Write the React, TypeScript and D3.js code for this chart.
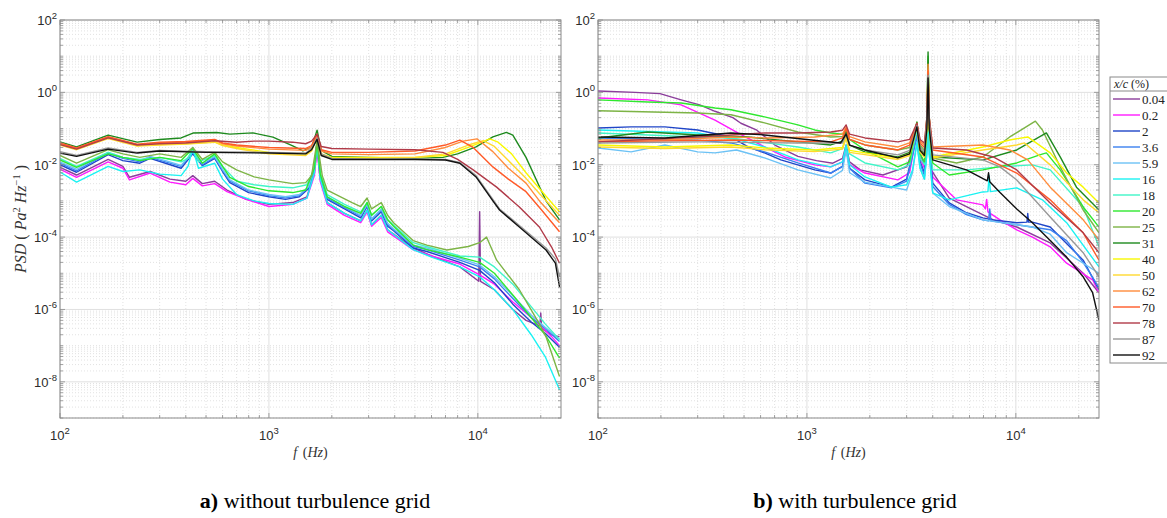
import React from 'react';
import * as d3 from 'd3';

type P = [number, number];

const xcLabels = ['0.04', '0.2', '2', '3.6', '5.9', '16', '18', '20', '25', '31', '40', '50', '62', '70', '78', '87', '92'];
const seriesColors = ['#8B3D9B', '#FF1AFF', '#1F45C8', '#3A80F0', '#6CC2F5', '#1AF2F2', '#40F5C8', '#2EE82E', '#7DB446', '#1E8A1E', '#F8F800', '#FFD92E', '#FF8C3C', '#FF5A28', '#B03A48', '#999999', '#111111'];

const xTickExps = [2, 3, 4];
const yTickExps = [-8, -6, -4, -2, 0, 2];
const captionTags = ['a)', 'b)'];
const captionTexts = [' without turbulence grid', ' with turbulence grid'];

// ---------- panel a) without turbulence grid ----------
const a_004: P[] = [[100,0.0085],[120,0.0052],[170,0.014],[200,0.009],[215,0.0045],[270,0.0065],[336,0.004],[400,0.0035],[432,0.005],[480,0.003],[550,0.0035],[630,0.002],[780,0.0011],[1000,0.0008],[1300,0.0009],[1520,0.0013],[1650,0.006],[1700,0.03],[1760,0.004],[1900,0.0009],[2300,0.00045],[2750,0.00028],[2950,0.00055],[3100,0.00022],[3450,0.0004],[3700,0.00016],[4900,5e-5],[6000,3e-5],[8200,1.5e-5],[10100,6e-6],[10200,5e-4],[10300,6e-6],[12000,3.5e-6],[14700,1e-6],[17000,5e-7],[19800,3.5e-7],[20000,8e-7],[20200,3e-7],[22500,2e-7],[24600,1.75e-7]];
const a_02: P[] = [[100,0.0075],[120,0.0045],[170,0.012],[200,0.008],[215,0.0038],[270,0.0059],[336,0.0033],[400,0.0028],[432,0.0042],[480,0.0026],[550,0.003],[630,0.0018],[780,0.0011],[1000,0.0007],[1300,0.0008],[1520,0.0012],[1650,0.005],[1700,0.028],[1760,0.0035],[1900,0.0008],[2300,0.0004],[2750,0.00025],[2950,0.0005],[3100,0.0002],[3450,0.00035],[3700,0.00014],[4900,4.5e-5],[6000,3e-5],[8200,1.8e-5],[10200,9e-6],[12000,5e-6],[14700,1.6e-6],[17000,8e-7],[20000,3.5e-7],[22500,1.8e-7],[24600,1e-7]];
const a_2: P[] = [[100,0.010],[120,0.0062],[170,0.019],[200,0.013],[241,0.011],[270,0.015],[320,0.011],[380,0.008],[432,0.02],[480,0.0095],[550,0.015],[600,0.0065],[650,0.0032],[800,0.0017],[1000,0.0013],[1200,0.0011],[1400,0.0013],[1550,0.0022],[1650,0.008],[1700,0.04],[1760,0.005],[1900,0.0011],[2300,0.0006],[2750,0.00034],[2950,0.0007],[3100,0.00028],[3450,0.0005],[3700,0.0002],[3950,0.00015],[4900,5e-5],[5700,4e-5],[8200,2e-5],[10200,1.2e-5],[12000,5.5e-6],[14700,1.4e-6],[18000,4.5e-7],[21000,2.2e-7],[24600,9e-8]];
const a_36: P[] = [[100,0.011],[120,0.0068],[170,0.021],[200,0.015],[241,0.012],[270,0.016],[320,0.012],[380,0.009],[432,0.022],[480,0.010],[550,0.016],[600,0.007],[650,0.0035],[800,0.0019],[1000,0.0014],[1200,0.0012],[1400,0.0014],[1550,0.0024],[1650,0.009],[1700,0.042],[1760,0.0055],[1900,0.0012],[2300,0.00065],[2750,0.00038],[2950,0.00075],[3100,0.0003],[3450,0.00055],[3700,0.00022],[3950,0.00016],[4900,5.5e-5],[5700,4.5e-5],[8200,2.3e-5],[10200,1.5e-5],[12000,7e-6],[14700,2e-6],[18000,6e-7],[21000,3e-7],[24600,1.3e-7]];
const a_59: P[] = [[100,0.012],[120,0.0075],[170,0.022],[200,0.016],[241,0.013],[270,0.017],[320,0.013],[380,0.0095],[432,0.023],[480,0.011],[550,0.017],[600,0.0075],[650,0.0038],[800,0.002],[1000,0.0015],[1200,0.0013],[1400,0.0015],[1550,0.0025],[1650,0.009],[1700,0.042],[1760,0.0055],[1900,0.0013],[2300,0.0007],[2750,0.0004],[2950,0.0008],[3100,0.00032],[3450,0.0006],[3700,0.00024],[3950,0.00017],[4900,6e-5],[5700,5e-5],[8200,2.6e-5],[10200,1.7e-5],[12000,8e-6],[14700,2.4e-6],[18000,7e-7],[21000,3.2e-7],[24600,1.5e-7]];
const a_16: P[] = [[100,0.0063],[120,0.0033],[170,0.009],[200,0.0065],[241,0.0072],[300,0.0055],[380,0.005],[410,0.009],[432,0.028],[460,0.008],[550,0.011],[600,0.004],[700,0.0015],[850,0.001],[1000,0.00085],[1300,0.0008],[1520,0.0012],[1650,0.006],[1700,0.035],[1760,0.004],[1900,0.0009],[2300,0.00045],[2750,0.00028],[2950,0.00055],[3100,0.00022],[3450,0.0004],[3700,0.00016],[4900,4.5e-5],[6000,2.8e-5],[8200,1.5e-5],[10200,8e-6],[12000,3.5e-6],[14700,1e-6],[18000,2e-7],[21000,5e-8],[24600,6e-9]];
const a_18: P[] = [[100,0.015],[120,0.009],[170,0.022],[200,0.016],[241,0.014],[300,0.016],[380,0.012],[410,0.015],[432,0.03],[460,0.012],[550,0.018],[600,0.009],[700,0.0035],[850,0.0028],[1000,0.0025],[1300,0.0023],[1520,0.0028],[1650,0.008],[1700,0.045],[1760,0.006],[1900,0.0015],[2300,0.0008],[2750,0.0005],[2950,0.0009],[3100,0.0004],[3450,0.0007],[3700,0.0003],[4900,7e-5],[6000,5e-5],[8200,3e-5],[10200,2.8e-5],[12000,1.5e-5],[14700,5e-6],[18000,1.2e-6],[21000,4e-7],[24600,1.45e-7]];
const a_20: P[] = [[100,0.0136],[120,0.0085],[170,0.02],[200,0.016],[241,0.013],[300,0.016],[380,0.013],[432,0.028],[480,0.011],[550,0.02],[600,0.009],[650,0.0045],[800,0.0025],[1000,0.0019],[1300,0.0017],[1500,0.002],[1650,0.008],[1700,0.045],[1760,0.0055],[1900,0.0013],[2300,0.0007],[2750,0.00045],[2950,0.0009],[3100,0.0004],[3450,0.0007],[3700,0.0003],[3950,0.0002],[4900,6e-5],[5700,4.5e-5],[8200,2.8e-5],[10200,2e-5],[12000,1e-5],[14700,2.5e-6],[18000,6e-7],[21000,2e-7],[24600,4.5e-8]];
const a_25: P[] = [[100,0.018],[120,0.011],[170,0.026],[200,0.02],[241,0.016],[300,0.02],[380,0.016],[432,0.03],[480,0.014],[550,0.022],[600,0.012],[700,0.0072],[850,0.0046],[1000,0.0038],[1300,0.003],[1500,0.0032],[1600,0.005],[1700,0.045],[1800,0.005],[1900,0.002],[2500,0.0009],[2750,0.0007],[2950,0.0012],[3100,0.0006],[3450,0.0009],[3700,0.0004],[3950,0.00025],[4900,8e-5],[5700,6e-5],[7100,4.4e-5],[9000,5.5e-5],[10200,7e-5],[11000,1e-4],[12300,2.3e-5],[15800,3.5e-6],[19700,4e-7],[21200,1.75e-7],[24600,1.4e-8]];
const a_31: P[] = [[100,0.043],[120,0.031],[170,0.066],[234,0.042],[300,0.05],[380,0.055],[433,0.075],[563,0.078],[650,0.07],[837,0.076],[1045,0.058],[1300,0.033],[1455,0.024],[1600,0.03],[1700,0.09],[1780,0.025],[2000,0.017],[3000,0.016],[5000,0.015],[6800,0.016],[8000,0.02],[9800,0.031],[11800,0.059],[13700,0.078],[14700,0.066],[17000,0.016],[19700,0.0025],[21200,0.001],[24600,0.0003]];
const a_40: P[] = [[100,0.036],[120,0.027],[170,0.055],[234,0.034],[300,0.036],[400,0.038],[550,0.043],[600,0.035],[700,0.03],[1000,0.022],[1500,0.02],[1600,0.025],[1700,0.06],[1780,0.02],[2000,0.016],[3000,0.016],[5000,0.016],[7000,0.018],[9000,0.03],[11400,0.052],[12500,0.042],[14500,0.02],[17000,0.006],[19700,0.0022],[22500,0.0009],[24600,0.0005]];
const a_50: P[] = [[100,0.035],[120,0.026],[170,0.053],[234,0.033],[300,0.035],[400,0.037],[550,0.042],[600,0.034],[700,0.028],[1000,0.02],[1500,0.018],[1600,0.024],[1700,0.058],[1780,0.019],[2000,0.015],[3000,0.015],[5000,0.016],[7000,0.02],[9000,0.035],[10600,0.046],[12000,0.032],[14000,0.013],[17000,0.0042],[19700,0.0016],[24600,0.0004]];
const a_62: P[] = [[100,0.038],[120,0.028],[170,0.058],[234,0.036],[300,0.04],[400,0.042],[550,0.048],[600,0.038],[700,0.033],[1000,0.027],[1500,0.025],[1600,0.03],[1700,0.065],[1780,0.024],[2000,0.02],[3000,0.019],[5000,0.02],[7000,0.03],[8500,0.045],[9900,0.052],[11800,0.023],[14000,0.008],[17000,0.0031],[20000,0.0009],[24600,0.00025]];
const a_70: P[] = [[100,0.04],[120,0.029],[170,0.06],[234,0.037],[300,0.042],[400,0.044],[550,0.05],[600,0.04],[700,0.035],[1000,0.03],[1500,0.028],[1600,0.034],[1700,0.07],[1780,0.026],[2000,0.022],[3000,0.022],[5000,0.024],[7000,0.035],[8200,0.048],[9500,0.03],[11800,0.0087],[14000,0.004],[17000,0.0018],[20000,0.0006],[24600,0.00014]];
const a_78: P[] = [[100,0.036],[120,0.027],[170,0.055],[234,0.035],[300,0.038],[400,0.04],[550,0.046],[700,0.042],[850,0.045],[1000,0.045],[1300,0.042],[1500,0.038],[1600,0.045],[1700,0.07],[1780,0.032],[2000,0.028],[3000,0.027],[5000,0.026],[6800,0.022],[8000,0.014],[9500,0.0072],[12300,0.0024],[15800,0.00068],[19700,0.00019],[22500,5.4e-5],[24600,1.9e-5]];
const a_87: P[] = [[100,0.023],[120,0.018],[170,0.029],[234,0.022],[300,0.025],[500,0.023],[1000,0.022],[1500,0.021],[1600,0.028],[1700,0.055],[1780,0.02],[2000,0.015],[3000,0.0145],[5000,0.0145],[7000,0.014],[8200,0.0115],[9800,0.005],[11800,0.0011],[12700,0.0006],[15800,0.00021],[21200,5e-5],[23500,2.5e-5],[24600,8e-6]];
const a_92: P[] = [[100,0.021],[120,0.017],[170,0.027],[234,0.021],[300,0.024],[500,0.022],[1000,0.021],[1500,0.02],[1600,0.026],[1700,0.05],[1780,0.018],[2000,0.014],[3000,0.014],[5000,0.014],[7000,0.0135],[8200,0.011],[9800,0.0046],[11800,0.001],[12700,0.00056],[15800,0.00019],[21200,4.4e-5],[23500,1.9e-5],[24600,4.2e-6]];

// ---------- panel b) with turbulence grid ----------
const b_004: P[] = [[100,1.09],[150,1.0],[198,0.92],[250,0.62],[307,0.45],[363,0.30],[442,0.2],[483,0.14],[576,0.09],[702,0.035],[905,0.017],[1110,0.013],[1330,0.011],[1480,0.015],[1540,0.035],[1600,0.012],[1800,0.0072],[2310,0.0052],[3000,0.0087],[3250,0.03],[3360,0.11],[3480,0.02],[3650,0.01],[3750,0.05],[3800,1.5],[3850,0.05],[3950,0.007],[4800,0.0012],[5800,0.0007],[7800,0.0003],[10100,0.00019],[14600,6.9e-5],[21000,1e-5],[25000,2.9e-6]];
const b_02: P[] = [[100,0.7],[173,0.62],[250,0.45],[363,0.17],[467,0.0755],[627,0.031],[784,0.0164],[1090,0.0099],[1300,0.0087],[1480,0.012],[1540,0.03],[1600,0.01],[1895,0.0059],[2725,0.0038],[3100,0.006],[3360,0.08],[3480,0.015],[3650,0.008],[3750,0.04],[3800,1.2],[3850,0.04],[4000,0.0046],[5200,0.00107],[6950,0.00078],[7150,0.0006],[7250,0.0011],[7350,0.0005],[8400,0.0003],[10100,0.000158],[12000,1e-4],[14600,5.4e-5],[17500,1.9e-5],[23300,6.6e-6],[25000,2.9e-6]];
const b_2: P[] = [[100,0.104],[144,0.111],[209,0.111],[300,0.0915],[433,0.0586],[523,0.031],[627,0.0212],[750,0.0136],[1090,0.0072],[1300,0.0059],[1480,0.009],[1540,0.03],[1600,0.008],[1895,0.0038],[2540,0.0024],[3000,0.004],[3360,0.07],[3480,0.012],[3650,0.006],[3750,0.04],[3800,0.8],[3850,0.04],[4000,0.0031],[4800,0.00088],[5800,0.00047],[6950,0.00034],[7800,0.0003],[10100,0.00025],[11300,0.00026],[11400,0.00045],[11500,0.00026],[12000,0.00026],[14600,0.00019],[21000,2.3e-5],[25000,3.5e-6]];
const b_36: P[] = [[100,0.055],[200,0.05],[300,0.048],[433,0.04],[627,0.0226],[905,0.0112],[1300,0.0059],[1480,0.009],[1540,0.03],[1600,0.008],[1895,0.0031],[2540,0.0023],[3000,0.0035],[3360,0.06],[3480,0.011],[3650,0.005],[3750,0.03],[3800,0.6],[3850,0.03],[4000,0.0025],[4800,0.0008],[5800,0.00042],[6950,0.0003],[7400,0.00028],[7500,0.0006],[7600,0.00028],[10100,0.00022],[14600,0.00016],[17500,8e-5],[21000,2e-5],[25000,4e-6]];
const b_59: P[] = [[100,0.0291],[144,0.0226],[209,0.0352],[300,0.0226],[363,0.0212],[460,0.0256],[627,0.0154],[905,0.0072],[1300,0.0043],[1480,0.007],[1540,0.0256],[1600,0.006],[1895,0.0033],[2540,0.0024],[3000,0.002],[3200,0.006],[3360,0.04],[3480,0.008],[3650,0.004],[3750,0.02],[3800,0.25],[3850,0.02],[4000,0.00166],[4800,0.0007],[6950,0.0003],[10100,0.00022],[12000,0.00019],[14600,0.00012],[17500,3.7e-5],[25000,1e-5]];
const b_16: P[] = [[100,0.0915],[209,0.08],[300,0.0755],[470,0.0484],[627,0.031],[905,0.0136],[1300,0.0087],[1480,0.012],[1540,0.035],[1600,0.01],[1895,0.0046],[2540,0.0024],[3000,0.0028],[3200,0.007],[3360,0.04],[3480,0.008],[3650,0.004],[3750,0.02],[3800,0.3],[3850,0.02],[4000,0.00166],[4800,0.00107],[6950,0.00177],[7350,0.0018],[7450,0.005],[7550,0.0018],[10100,0.0023],[13400,0.00107],[17500,0.00025],[25000,1.5e-5]];
const b_18: P[] = [[100,0.0755],[300,0.0586],[433,0.055],[905,0.031],[1300,0.0212],[1480,0.028],[1540,0.06],[1600,0.02],[1895,0.0112],[2725,0.0072],[3100,0.01],[3360,0.09],[3480,0.015],[3650,0.01],[3750,0.05],[3800,1.5],[3850,0.05],[4000,0.0072],[5800,0.0072],[8400,0.0087],[12000,0.0099],[14600,0.0072],[21000,0.00068],[25000,5.4e-5]];
const b_20: P[] = [[100,0.62],[173,0.54],[250,0.51],[363,0.37],[433,0.33],[627,0.21],[905,0.126],[1090,0.0915],[1300,0.0755],[1480,0.07],[1540,0.09],[1600,0.05],[1895,0.0256],[2725,0.0087],[3100,0.012],[3360,0.15],[3480,0.02],[3650,0.012],[3750,0.1],[3800,10],[3850,0.1],[4000,0.0112],[4800,0.0052],[6950,0.0072],[10100,0.0112],[13000,0.0187],[14000,0.0212],[16300,0.0072],[21000,0.00068],[25000,0.00019]];
const b_25: P[] = [[100,0.31],[300,0.27],[433,0.24],[627,0.143],[905,0.0805],[1300,0.0586],[1480,0.06],[1540,0.08],[1600,0.05],[1895,0.0352],[2725,0.0256],[3100,0.03],[3360,0.14],[3480,0.035],[3650,0.025],[3750,0.1],[3800,5],[3850,0.1],[4000,0.0154],[5200,0.0112],[6950,0.0164],[9350,0.0586],[12400,0.16],[13400,0.0915],[16300,0.0087],[21000,0.00056],[25000,0.000131]];
const b_31: P[] = [[100,0.055],[173,0.0805],[300,0.0665],[523,0.0586],[905,0.0427],[1300,0.0352],[1480,0.045],[1540,0.08],[1600,0.035],[1895,0.0226],[2725,0.0164],[3100,0.022],[3360,0.15],[3480,0.03],[3650,0.02],[3750,0.2],[3800,13],[3850,0.2],[4000,0.0164],[6950,0.0136],[10100,0.0256],[14000,0.0755],[16300,0.0164],[19500,0.0024],[25000,0.00056]];
const b_40: P[] = [[100,0.0352],[209,0.031],[433,0.0352],[627,0.0291],[1090,0.0256],[1480,0.03],[1540,0.06],[1600,0.025],[1895,0.0212],[2725,0.0154],[3100,0.02],[3360,0.12],[3480,0.025],[3650,0.018],[3750,0.1],[3800,4],[3850,0.1],[4000,0.0164],[6950,0.031],[9350,0.0484],[11400,0.0586],[14600,0.0212],[17500,0.0059],[21000,0.0024],[25000,0.00088]];
const b_50: P[] = [[100,0.031],[209,0.028],[433,0.031],[627,0.026],[1090,0.023],[1480,0.027],[1540,0.055],[1600,0.022],[1895,0.019],[2725,0.014],[3100,0.018],[3360,0.11],[3480,0.022],[3650,0.016],[3750,0.1],[3800,3],[3850,0.1],[4000,0.0154],[6950,0.0256],[10100,0.0352],[11000,0.04],[14600,0.0099],[21000,0.00107],[25000,0.00047]];
const b_62: P[] = [[100,0.0484],[209,0.0484],[433,0.0586],[627,0.055],[1090,0.0586],[1480,0.07],[1540,0.11],[1600,0.06],[1895,0.0427],[2725,0.031],[3100,0.04],[3360,0.14],[3480,0.045],[3650,0.035],[3750,0.2],[3800,6],[3850,0.2],[4000,0.031],[6950,0.0352],[9350,0.0256],[11400,0.0136],[14600,0.0024],[21000,0.0003],[25000,8.4e-5]];
const b_70: P[] = [[100,0.0427],[433,0.0484],[1300,0.0427],[1480,0.055],[1540,0.1],[1600,0.05],[1895,0.0352],[2725,0.0256],[3100,0.035],[3360,0.13],[3480,0.04],[3650,0.03],[3750,0.15],[3800,4],[3850,0.15],[4000,0.0256],[6950,0.0164],[10100,0.0059],[14600,0.00107],[21000,0.000131],[25000,2.3e-5]];
const b_78: P[] = [[100,0.0427],[300,0.0586],[627,0.0755],[905,0.0755],[1300,0.0805],[1480,0.09],[1540,0.126],[1600,0.07],[1895,0.055],[2725,0.0427],[3100,0.05],[3360,0.14],[3480,0.05],[3650,0.04],[3750,0.2],[3800,3],[3850,0.2],[4000,0.0291],[5800,0.0256],[7800,0.0164],[10100,0.0072],[14600,0.00088],[21000,0.000131],[25000,3.7e-5]];
const b_87: P[] = [[100,0.04],[300,0.0427],[905,0.04],[1480,0.04],[1540,0.07],[1600,0.035],[1895,0.0256],[2725,0.0187],[3100,0.025],[3360,0.12],[3480,0.03],[3650,0.022],[3750,0.15],[3800,3],[3850,0.15],[4000,0.0187],[6950,0.0136],[8400,0.0087],[10100,0.0038],[14600,0.00036],[21000,3.7e-5],[25000,8e-6]];
const b_92: P[] = [[100,0.0586],[209,0.055],[433,0.0755],[627,0.0665],[1050,0.0484],[1450,0.04],[1540,0.07],[1600,0.035],[1895,0.0256],[2725,0.0154],[3100,0.02],[3360,0.11],[3480,0.025],[3650,0.018],[3750,0.1],[3800,2.5],[3850,0.1],[4000,0.0136],[5800,0.0072],[7300,0.0036],[7400,0.006],[7500,0.0034],[8400,0.0017],[10100,0.0006],[12000,0.00025],[14600,8e-5],[17500,2.8e-5],[21000,8e-6],[23300,2.9e-6],[25000,5e-7]];

const panelA: P[][] = [a_004, a_02, a_2, a_36, a_59, a_16, a_18, a_20, a_25, a_31, a_40, a_50, a_62, a_70, a_78, a_87, a_92];
const panelB: P[][] = [b_004, b_02, b_2, b_36, b_59, b_16, b_18, b_20, b_25, b_31, b_40, b_50, b_62, b_70, b_78, b_87, b_92];

const W = 1167;
const H = 518;
const TOP = 20;
const BOTTOM = 418;
const X_DOMAIN: [number, number] = [100, 25000];
const Y_DOMAIN: [number, number] = [1e-9, 1e2];
const SANS = "'Liberation Sans', Arial, Helvetica, sans-serif";
const SERIF = "'Liberation Serif', 'Times New Roman', serif";

function Panel({ id, x0, x1, data }: { id: string; x0: number; x1: number; data: P[][] }) {
  const x = d3.scaleLog().domain(X_DOMAIN).range([x0, x1]);
  const y = d3.scaleLog().domain(Y_DOMAIN).range([BOTTOM, TOP]);
  const line = d3.line<P>().x((d) => x(d[0])).y((d) => y(d[1]));

  const xMinor: number[] = [];
  for (let e = 2; e <= 4; e++) for (let k = 2; k <= 9; k++) { const v = k * Math.pow(10, e); if (v <= X_DOMAIN[1]) xMinor.push(v); }
  const xMajor = xTickExps.map((e) => Math.pow(10, e));
  const yMinor: number[] = [];
  for (let e = -9; e <= 1; e++) for (let k = 1; k <= 9; k++) {
    const v = k * Math.pow(10, e);
    if (k === 1 && yTickExps.includes(e)) continue;
    if (v < Y_DOMAIN[1]) yMinor.push(v);
  }
  const yMajor = yTickExps.map((e) => Math.pow(10, e));
  const cx = (x0 + x1) / 2;

  return (
    <g>
      <defs>
        <clipPath id={id}>
          <rect x={x0} y={TOP} width={x1 - x0} height={BOTTOM - TOP} />
        </clipPath>
      </defs>
      <rect x={x0} y={TOP} width={x1 - x0} height={BOTTOM - TOP} fill="#fff" />
      {xMinor.map((v, i) => (
        <line key={'xm' + i} x1={x(v)} x2={x(v)} y1={TOP} y2={BOTTOM} stroke="#d6d6d6" strokeWidth={0.7} strokeDasharray="1,2" />
      ))}
      {yMinor.map((v, i) => (
        <line key={'ym' + i} x1={x0} x2={x1} y1={y(v)} y2={y(v)} stroke="#d6d6d6" strokeWidth={0.7} strokeDasharray="1,2" />
      ))}
      {xMajor.map((v, i) => (
        <line key={'xM' + i} x1={x(v)} x2={x(v)} y1={TOP} y2={BOTTOM} stroke="#e0e0e0" strokeWidth={1} />
      ))}
      {yMajor.map((v, i) => (
        <line key={'yM' + i} x1={x0} x2={x1} y1={y(v)} y2={y(v)} stroke="#e0e0e0" strokeWidth={1} />
      ))}
      <g clipPath={`url(#${id})`}>
        {data.map((s, i) => (
          <path key={i} d={line(s) || ''} fill="none" stroke={seriesColors[i]} strokeWidth={1.4} strokeLinejoin="round" />
        ))}
      </g>
      {xMinor.map((v, i) => (
        <g key={'xt' + i} stroke="#8a8a8a" strokeWidth={0.8}>
          <line x1={x(v)} x2={x(v)} y1={BOTTOM} y2={BOTTOM - 3} />
          <line x1={x(v)} x2={x(v)} y1={TOP} y2={TOP + 3} />
        </g>
      ))}
      {xMajor.map((v, i) => (
        <g key={'xT' + i} stroke="#8a8a8a" strokeWidth={0.8}>
          <line x1={x(v)} x2={x(v)} y1={BOTTOM} y2={BOTTOM - 5} />
          <line x1={x(v)} x2={x(v)} y1={TOP} y2={TOP + 5} />
        </g>
      ))}
      {yMinor.map((v, i) => (
        <g key={'yt' + i} stroke="#8a8a8a" strokeWidth={0.8}>
          <line x1={x0} x2={x0 + 3} y1={y(v)} y2={y(v)} />
          <line x1={x1} x2={x1 - 3} y1={y(v)} y2={y(v)} />
        </g>
      ))}
      {yMajor.map((v, i) => (
        <g key={'yT' + i} stroke="#8a8a8a" strokeWidth={0.8}>
          <line x1={x0} x2={x0 + 5} y1={y(v)} y2={y(v)} />
          <line x1={x1} x2={x1 - 5} y1={y(v)} y2={y(v)} />
        </g>
      ))}
      <rect x={x0} y={TOP} width={x1 - x0} height={BOTTOM - TOP} fill="none" stroke="#8a8a8a" strokeWidth={1} />
      {yTickExps.map((e) => (
        <text key={'yl' + e} x={x0 - 3} y={y(Math.pow(10, e)) + 5} textAnchor="end" fontFamily={SANS} fontSize={13} fill="#2b2b2b">
          <tspan>10</tspan>
          <tspan dy={-6} fontSize={9.5}>{e}</tspan>
        </text>
      ))}
      {xTickExps.map((e) => (
        <text key={'xl' + e} x={x(Math.pow(10, e))} y={440} textAnchor="middle" fontFamily={SANS} fontSize={13} fill="#2b2b2b">
          <tspan>10</tspan>
          <tspan dy={-6} fontSize={9.5}>{e}</tspan>
        </text>
      ))}
      <text x={cx} y={457} textAnchor="middle" fontFamily={SERIF} fontSize={14} fill="#333">
        <tspan fontStyle="italic">f</tspan>
        <tspan>{'\u2009\u2009('}</tspan>
        <tspan fontStyle="italic">Hz</tspan>
        <tspan>)</tspan>
      </text>
    </g>
  );
}

export default function App() {
  const legendX = 1110;
  const legendTop = 77;
  const itemY0 = 99;
  const itemStep = 16;
  const legendBottom = itemY0 + itemStep * (xcLabels.length - 1) + 8;
  return (
    <svg width={W} height={H} style={{ position: 'absolute', left: 0, top: 0, background: '#fff' }}>
      <rect width={W} height={H} fill="#fff" />
      <Panel id="clipA" x0={60} x1={561} data={panelA} />
      <Panel id="clipB" x0={598} x1={1099} data={panelB} />
      <text transform="translate(26,219) rotate(-90)" textAnchor="middle" fontFamily={SERIF} fontSize={16} fill="#333" fontStyle="italic">
        <tspan>PSD </tspan>
        <tspan fontStyle="normal">( </tspan>
        <tspan>Pa</tspan>
        <tspan dy={-6} fontSize={10.5} fontStyle="normal">2</tspan>
        <tspan dy={6}> Hz</tspan>
        <tspan dy={-6} fontSize={10.5} fontStyle="normal">{'\u22121'}</tspan>
        <tspan dy={6} fontStyle="normal"> )</tspan>
      </text>
      <rect x={legendX} y={legendTop} width={80} height={legendBottom - legendTop} fill="#fff" stroke="#8a8a8a" strokeWidth={1} />
      <line x1={legendX} x2={legendX + 80} y1={91} y2={91} stroke="#8a8a8a" strokeWidth={1} />
      <text x={legendX + 4} y={88} fontFamily={SERIF} fontSize={12} fill="#222">
        <tspan fontStyle="italic">x/c</tspan>
        <tspan> (%)</tspan>
      </text>
      {xcLabels.map((lab, i) => (
        <g key={lab}>
          <line x1={legendX + 3} x2={legendX + 30} y1={itemY0 + i * itemStep} y2={itemY0 + i * itemStep} stroke={seriesColors[i]} strokeWidth={1.4} />
          <text x={legendX + 32} y={itemY0 + i * itemStep + 4.5} fontFamily={SERIF} fontSize={13} fill="#222">{lab}</text>
        </g>
      ))}
      {captionTags.map((tag, i) => (
        <text key={tag} x={i === 0 ? 315 : 855} y={508} textAnchor="middle" fontFamily={SERIF} fontSize={22} fill="#000">
          <tspan fontWeight="bold">{tag}</tspan>
          <tspan>{captionTexts[i]}</tspan>
        </text>
      ))}
    </svg>
  );
}
